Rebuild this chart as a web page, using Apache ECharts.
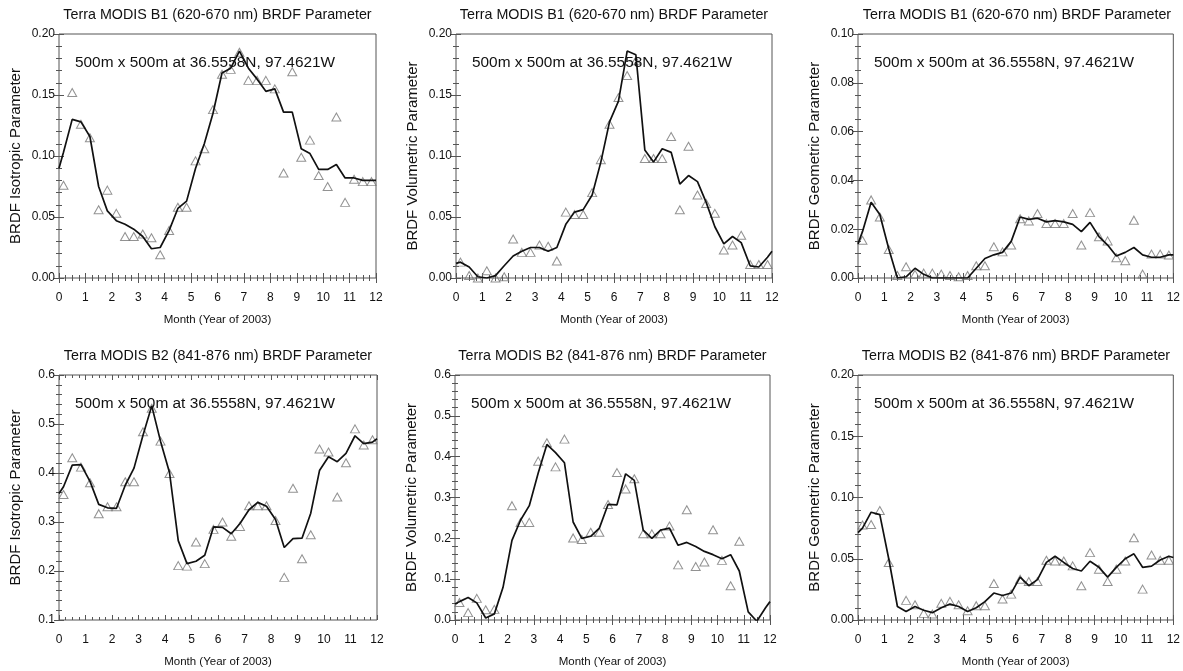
<!DOCTYPE html>
<html><head><meta charset="utf-8">
<script src="https://cdn.jsdelivr.net/npm/echarts@6/dist/echarts.min.js"></script>
<style>html,body{margin:0;padding:0;background:#fff}#c{width:1183px;height:671px}</style>
</head><body><div id="c"></div>
<script>
// ---------- DATA ----------
const monthTicks = [0,1,2,3,4,5,6,7,8,9,10,11,12];
const sampleMonths = [0.17,0.5,0.83,1.17,1.5,1.83,2.17,2.5,2.83,3.17,3.5,3.83,4.17,4.5,4.83,5.17,5.5,5.83,
  6.17,6.5,6.83,7.17,7.5,7.83,8.17,8.5,8.83,9.17,9.5,9.83,10.17,10.5,10.83,11.17,11.5,11.83];
const fitMonths = [0,0.17,0.5,0.83,1.17,1.5,1.83,2.17,2.5,2.83,3.17,3.5,3.83,4.17,4.5,4.83,5.17,5.5,5.83,
  6.17,6.5,6.83,7.17,7.5,7.83,8.17,8.5,8.83,9.17,9.5,9.83,10.17,10.5,10.83,11.17,11.5,11.83,12];

const titleB1 = 'Terra MODIS B1 (620-670 nm) BRDF Parameter';
const titleB2 = 'Terra MODIS B2 (841-876 nm) BRDF Parameter';
const siteText = '500m x 500m at 36.5558N, 97.4621W';
const xName = 'Month (Year of 2003)';

const b1IsoObs = [0.076,0.152,0.126,0.115,0.056,0.072,0.053,0.034,0.034,0.036,0.033,0.019,0.039,0.058,0.058,0.096,0.106,0.138,
  0.167,0.171,0.185,0.162,0.162,0.162,0.155,0.086,0.169,0.099,0.113,0.084,0.075,0.132,0.062,0.081,0.079,0.079];
const b1IsoFit = [0.090,0.103,0.130,0.128,0.116,0.075,0.055,0.047,0.044,0.040,0.034,0.024,0.025,0.039,0.057,0.063,0.090,0.110,0.135,
  0.168,0.172,0.186,0.172,0.163,0.153,0.155,0.136,0.136,0.106,0.102,0.089,0.089,0.093,0.082,0.082,0.080,0.080,0.080];

const b1VolObs = [0.013,0.002,0.000,0.006,0.000,0.001,0.032,0.021,0.021,0.027,0.026,0.014,0.054,0.052,0.052,0.070,0.097,0.126,
  0.148,0.166,0.178,0.098,0.098,0.098,0.116,0.056,0.108,0.068,0.061,0.053,0.023,0.027,0.035,0.011,0.011,0.011];
const b1VolFit = [0.012,0.013,0.009,0.001,0.000,0.002,0.010,0.018,0.022,0.025,0.025,0.022,0.025,0.044,0.054,0.056,0.068,0.095,0.128,
  0.145,0.186,0.183,0.105,0.095,0.106,0.103,0.077,0.084,0.079,0.062,0.042,0.028,0.034,0.029,0.010,0.009,0.017,0.022];

const b1GeoObs = [0.0155,0.032,0.025,0.0117,0.001,0.0046,0.0015,0.002,0.002,0.0016,0.001,0.0005,0.001,0.005,0.005,0.0128,0.0107,0.0135,
  0.0243,0.0234,0.0264,0.0223,0.0223,0.0223,0.0264,0.0135,0.0268,0.0169,0.0152,0.0083,0.0071,0.0237,0.0016,0.0098,0.0098,0.0094];
const b1GeoFit = [0.014,0.019,0.031,0.026,0.012,0.000,0.0005,0.004,0.0015,0.000,0.000,0.000,0.000,0.000,0.004,0.008,0.0095,0.0105,0.015,
  0.025,0.024,0.0245,0.023,0.0235,0.023,0.022,0.019,0.0228,0.017,0.0135,0.009,0.0105,0.0125,0.0095,0.0085,0.0085,0.0095,0.0095];

const b2IsoObs = [0.356,0.431,0.412,0.380,0.317,0.331,0.331,0.382,0.382,0.484,0.532,0.465,0.399,0.211,0.210,0.259,0.215,0.285,
  0.300,0.271,0.291,0.333,0.333,0.333,0.303,0.187,0.369,0.225,0.274,0.449,0.443,0.351,0.421,0.490,0.457,0.468];
const b2IsoFit = [0.358,0.372,0.416,0.417,0.383,0.336,0.329,0.328,0.375,0.410,0.477,0.537,0.465,0.401,0.262,0.215,0.220,0.232,0.290,
  0.289,0.276,0.297,0.325,0.340,0.332,0.305,0.248,0.266,0.267,0.318,0.405,0.433,0.423,0.440,0.476,0.460,0.463,0.470];

const b2VolObs = [0.043,0.018,0.053,0.025,0.026,-0.02,0.280,0.239,0.239,0.389,0.434,0.375,0.443,0.201,0.197,0.215,0.215,0.283,
  0.361,0.321,0.346,0.211,0.211,0.211,0.230,0.135,0.270,0.131,0.142,0.221,0.146,0.084,0.193,-0.02,-0.02,-0.02];
const b2VolFit = [0.039,0.045,0.055,0.042,0.005,0.015,0.080,0.195,0.245,0.280,0.360,0.430,0.410,0.385,0.240,0.200,0.205,0.225,0.283,
  0.282,0.358,0.342,0.220,0.200,0.220,0.225,0.183,0.190,0.180,0.168,0.160,0.150,0.160,0.120,0.020,-0.003,0.030,0.045];

const b2GeoObs = [0.0775,0.078,0.0894,0.047,-0.01,0.016,0.0125,0.0054,0.0049,0.0136,0.0152,0.0125,0.0076,0.0117,0.0117,0.0298,0.0171,0.0211,
  0.0333,0.0314,0.0314,0.0488,0.0482,0.0482,0.0442,0.0279,0.055,0.0415,0.0314,0.0415,0.0482,0.0672,0.0252,0.0531,0.0488,0.0488];
const b2GeoFit = [0.0713,0.075,0.088,0.086,0.050,0.011,0.007,0.011,0.008,0.006,0.010,0.013,0.011,0.007,0.010,0.015,0.022,0.020,0.022,
  0.035,0.028,0.033,0.047,0.052,0.047,0.042,0.040,0.048,0.043,0.035,0.043,0.050,0.054,0.043,0.044,0.049,0.052,0.051];

// ---------- LAYOUT ----------
const panels = [
  {title:titleB1, yName:'BRDF Isotropic Parameter',  min:0,   max:0.20, step:0.05, dec:2, minor:5, obs:b1IsoObs, fit:b1IsoFit, box:[59,34,317,244]},
  {title:titleB1, yName:'BRDF Volumetric Parameter', min:0,   max:0.20, step:0.05, dec:2, minor:5, obs:b1VolObs, fit:b1VolFit, box:[456,34,316,244]},
  {title:titleB1, yName:'BRDF Geometric Parameter',  min:0,   max:0.10, step:0.02, dec:2, minor:4, obs:b1GeoObs, fit:b1GeoFit, box:[858,34,318,244]},
  {title:titleB2, yName:'BRDF Isotropic Parameter',  min:0.1, max:0.6,  step:0.1,  dec:1, minor:5, obs:b2IsoObs, fit:b2IsoFit, box:[59,375,318,245]},
  {title:titleB2, yName:'BRDF Volumetric Parameter', min:0,   max:0.6,  step:0.1,  dec:1, minor:5, obs:b2VolObs, fit:b2VolFit, box:[455,375,315,245]},
  {title:titleB2, yName:'BRDF Geometric Parameter',  min:0,   max:0.20, step:0.05, dec:2, minor:5, obs:b2GeoObs, fit:b2GeoFit, box:[858,375,316,245]}
];

const FONT = '"Liberation Sans", Arial, Helvetica, sans-serif';
const axisCol = '#555';
const grid = [], xAxis = [], yAxis = [], series = [], graphic = [];

panels.forEach((p, i) => {
  const [l, t, w, h] = p.box;
  grid.push({left:l, top:t, width:w, height:h, show:true, borderColor:axisCol, borderWidth:1, backgroundColor:'#fff'});
  const xBase = {
    type:'value', gridIndex:i, min:0, max:12, interval:1,
    axisLine:{show:false},
    axisTick:{show:true, inside:true, length:5, lineStyle:{color:axisCol}},
    minorTick:{show:true, splitNumber:4, length:3, lineStyle:{color:axisCol}},
    splitLine:{show:false}, minorSplitLine:{show:false}
  };
  xAxis.push(Object.assign({}, xBase, {
    position:'bottom',
    axisLabel:{show:true, margin:14, color:'#111', fontFamily:FONT, fontSize:12,
      formatter:v => monthTicks.includes(v) ? String(v) : ''},
    name:xName, nameLocation:'middle', nameGap:36,
    nameTextStyle:{color:'#111', fontFamily:FONT, fontSize:11.5}
  }));
  xAxis.push(Object.assign({}, xBase, {position:'top', axisLabel:{show:false}}));
  const yBase = {
    type:'value', gridIndex:i, min:p.min, max:p.max, interval:p.step,
    axisLine:{show:false},
    axisTick:{show:true, inside:true, length:5, lineStyle:{color:axisCol}},
    minorTick:{show:true, splitNumber:p.minor, length:3, lineStyle:{color:axisCol}},
    splitLine:{show:false}, minorSplitLine:{show:false}
  };
  yAxis.push(Object.assign({}, yBase, {
    position:'left',
    axisLabel:{show:true, margin:4, color:'#111', fontFamily:FONT, fontSize:12,
      formatter:v => v.toFixed(p.dec)},
    name:p.yName, nameLocation:'middle', nameGap:36, nameRotate:90,
    nameTextStyle:{color:'#111', fontFamily:FONT, fontSize:15}
  }));
  yAxis.push(Object.assign({}, yBase, {position:'right', axisLabel:{show:false}}));

  series.push({
    type:'scatter', xAxisIndex:2*i, yAxisIndex:2*i, clip:true,
    symbol:'triangle', symbolSize:[9,8],
    itemStyle:{color:'rgba(255,255,255,0)', borderColor:'#777', borderWidth:1},
    data: sampleMonths.map((m, k) => [m, p.obs[k]]),
    z:2, silent:true
  });
  series.push({
    type:'line', xAxisIndex:2*i, yAxisIndex:2*i, clip:true,
    showSymbol:false, symbol:'none',
    lineStyle:{color:'#111', width:1.7},
    data: fitMonths.map((m, k) => [m, p.fit[k]]),
    z:3, silent:true
  });

  graphic.push({type:'text', x:l + w/2, y:t - 19,
    style:{text:p.title, align:'center', verticalAlign:'middle', font:'14.3px ' + FONT, fill:'#111'}});
  graphic.push({type:'text', x:l + 16, y:t + 29,
    style:{text:siteText, align:'left', verticalAlign:'middle', font:'15.4px ' + FONT, fill:'#111'}, z:10});
});

const chart = echarts.init(document.getElementById('c'), null, {renderer:'canvas'});
chart.setOption({
  animation:false,
  backgroundColor:'#fff',
  grid, xAxis, yAxis, series, graphic
});
</script>
</body></html>
